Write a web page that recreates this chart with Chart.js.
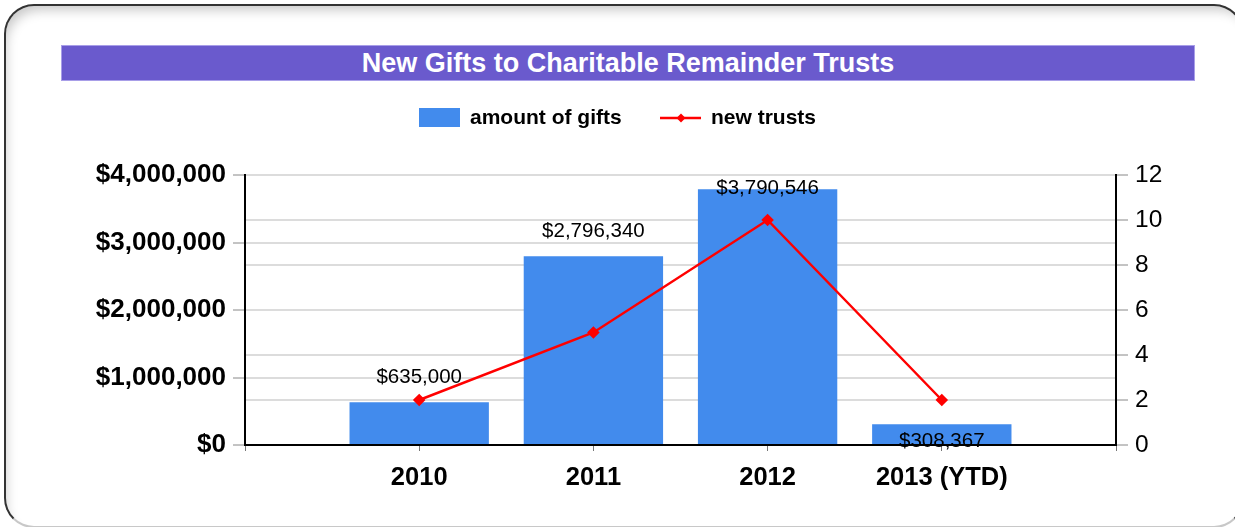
<!DOCTYPE html>
<html>
<head>
<meta charset="utf-8">
<script src="https://cdn.jsdelivr.net/npm/chart.js@4.4.1/dist/chart.umd.min.js"></script>
<style>
  html, body { margin: 0; padding: 0; background: #fff; }
  body { width: 1235px; height: 527px; position: relative; overflow: hidden; font-family: "Liberation Sans", Arial, sans-serif; }
  #marco {
    position: absolute; left: 4px; top: 4px; width: 1236px; height: 520px;
    border: 2px solid #333; border-bottom-color: #c8c8c8; border-radius: 30px;
    box-shadow: inset 6px 10px 12px -6px rgba(0,0,0,0.22);
  }
  #titulo {
    position: absolute; left: 61px; top: 45px; width: 1132px; height: 34px;
    background: #6a5acd; border: 1px solid #a89ee8;
    color: #fff; font-weight: bold; font-size: 27px; line-height: 35px; text-align: center;
  }
  .leyenda { position: absolute; top: 104px; height: 26px; font-weight: bold; font-size: 21px; line-height: 26px; color: #000; }
  #grafica { position: absolute; left: 0; top: 0; }
</style>
</head>
<body>
<div id="marco"></div>
<canvas id="grafica" width="1235" height="527"></canvas>
<div id="titulo">New Gifts to Charitable Remainder Trusts</div>
<div class="leyenda" style="left:419px;">
  <span style="display:inline-block;width:41px;height:19px;background:#428bed;vertical-align:-3px;margin-right:10px;"></span>amount of gifts
</div>
<div class="leyenda" style="left:660px;">
  <svg width="41" height="20" style="vertical-align:-4px;margin-right:10px;">
    <line x1="0" y1="10" x2="41" y2="10" stroke="#ff0000" stroke-width="2.5"/>
    <polygon points="21,5.5 25.5,10 21,14.5 16.5,10" fill="#ff0000"/>
  </svg>new trusts
</div>
<script>
const anios = ["2010", "2011", "2012", "2013 (YTD)"];
const montos = [635000, 2796340, 3790546, 308367];
const nuevosFideicomisos = [2, 5, 10, 2];

// casillas vacías a cada lado, como en el original
const etiquetas = ["", ...anios, ""];
const datosMontos = [null, ...montos, null];
const datosFideicomisos = [null, ...nuevosFideicomisos, null];

const fuente = '"Liberation Sans", Arial, sans-serif';

const etiquetasBarras = {
  id: 'etiquetasBarras',
  afterDatasetsDraw(chart) {
    const { ctx, chartArea } = chart;
    const barras = chart.getDatasetMeta(1).data;
    const puntos = chart.getDatasetMeta(0).data;
    ctx.save();
    ctx.font = '20.5px ' + fuente;
    ctx.fillStyle = '#000';
    ctx.textAlign = 'center';
    ctx.textBaseline = 'middle';
    datosMontos.forEach((v, i) => {
      if (v === null) return;
      const b = barras[i];
      let y = b.y - 25;
      if (y < chartArea.top + 13) y = chartArea.top + 13;
      if (puntos[i] && Math.abs(y - puntos[i].y) < 15) y = chartArea.bottom - 4;
      ctx.fillText('$' + v.toLocaleString('en-US'), b.x, y);
    });
    ctx.restore();
  }
};

new Chart(document.querySelector("#grafica"), {
  data: {
    labels: etiquetas,
    datasets: [
      {
        type: 'line',
        label: 'new trusts',
        data: datosFideicomisos,
        yAxisID: 'y1',
        borderColor: '#ff0000',
        backgroundColor: '#ff0000',
        borderWidth: 2.5,
        tension: 0,
        pointStyle: 'rectRot',
        pointRadius: 4.5,
        pointHoverRadius: 4.5,
        order: 0
      },
      {
        type: 'bar',
        label: 'amount of gifts',
        data: datosMontos,
        yAxisID: 'y',
        backgroundColor: '#428bed',
        categoryPercentage: 1,
        barPercentage: 0.8,
        order: 1
      }
    ]
  },
  options: {
    responsive: false,
    animation: false,
    layout: { padding: { top: 175, left: 0, right: 0, bottom: 0 } },
    plugins: { legend: { display: false }, title: { display: false }, tooltip: { enabled: false } },
    scales: {
      x: {
        offset: false,
        afterFit: (s) => { s.height = 82; },
        grid: { offset: false, drawOnChartArea: false, drawTicks: true, tickLength: 6, tickColor: '#777', tickWidth: 1 },
        border: { color: '#000', width: 2 },
        ticks: { color: '#000', font: { family: fuente, size: 25.5, weight: 'bold' }, padding: 12, autoSkip: false, maxRotation: 0 }
      },
      y: {
        position: 'left',
        min: 0, max: 4000000,
        afterFit: (s) => { s.width = 245; },
        grid: { color: '#dcdcdc', lineWidth: 2, tickLength: 12, tickColor: '#888', tickWidth: 1 },
        border: { color: '#000', width: 2 },
        ticks: { stepSize: 1000000, color: '#000', padding: 7, font: { family: fuente, size: 26, weight: 'bold' },
          callback: (v) => '$' + v.toLocaleString('en-US') }
      },
      y1: {
        position: 'right',
        min: 0, max: 12,
        afterFit: (s) => { s.width = 119; },
        grid: { color: '#dcdcdc', lineWidth: 2, tickLength: 12, tickColor: '#888', tickWidth: 1 },
        border: { color: '#000', width: 2 },
        ticks: { stepSize: 2, color: '#000', padding: 7, font: { family: fuente, size: 24.5 } }
      }
    }
  },
  plugins: [etiquetasBarras]
});
</script>
</body>
</html>
